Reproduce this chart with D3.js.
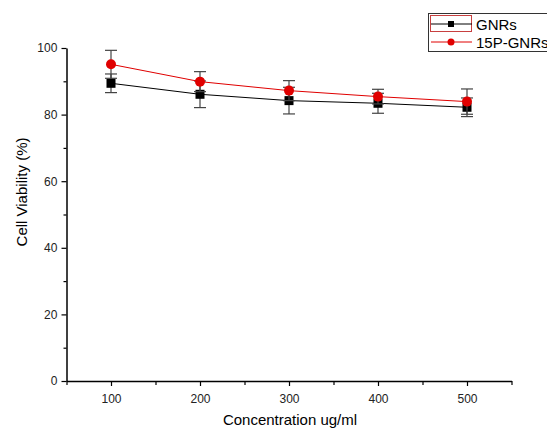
<!DOCTYPE html>
<html>
<head>
<meta charset="utf-8">
<script src="https://cdn.jsdelivr.net/npm/d3@7"></script>
<style>
body { margin: 0; background: #fff; overflow: hidden; }
text { font-family: "Liberation Sans", Arial, sans-serif; }
</style>
</head>
<body>
<div id="chart"></div>
<script>
var conc = [100, 200, 300, 400, 500];
var gnrs = [89.4, 86.1, 84.2, 83.4, 82.2];
var gnrsErr = [2.8, 4.0, 4.0, 3.0, 2.8];
var p15 = [95.1, 89.9, 87.2, 85.4, 83.9];
var p15Err = [4.2, 3.0, 3.0, 2.2, 3.8];
var xTicks = [100, 200, 300, 400, 500];
var yTicks = [0, 20, 40, 60, 80, 100];
var names = ["GNRs", "15P-GNRs"];

var w = 547, h = 435;
var svg = d3.select("#chart").append("svg")
    .attr("width", w)
    .attr("height", h);

var x = d3.scaleLinear().domain([50, 550]).range([66.5, 511.5]);
var y = d3.scaleLinear().domain([0, 100]).range([381, 48]);

// x axis
var xAxis = svg.append("g")
    .attr("transform", "translate(0,381)")
    .call(d3.axisBottom(x).tickValues(xTicks).tickSize(5).tickSizeOuter(0));
svg.append("g")
    .attr("transform", "translate(0,381)")
    .call(d3.axisBottom(x).tickValues(d3.range(50, 551, 100)).tickSize(4).tickFormat("").tickSizeOuter(0))
    .select(".domain").remove();

// y axis
var yAxis = svg.append("g")
    .attr("transform", "translate(66.5,0)")
    .call(d3.axisLeft(y).tickValues(yTicks).tickSize(5).tickSizeOuter(0));
svg.append("g")
    .attr("transform", "translate(66.5,0)")
    .call(d3.axisLeft(y).tickValues(d3.range(10, 100, 20)).tickSize(3).tickFormat(""))
    .select(".domain").remove();

svg.selectAll(".domain").attr("stroke", "#000").attr("stroke-width", 1.5);
svg.selectAll(".tick line").attr("stroke", "#000").attr("stroke-width", 1.2);
xAxis.selectAll(".tick text").attr("font-size", 12).attr("fill", "#222").attr("dy", "1.15em");
yAxis.selectAll(".tick text").attr("font-size", 12).attr("fill", "#222").attr("dx", "-0.1em");

svg.append("text")
    .attr("x", 290)
    .attr("y", 425)
    .attr("text-anchor", "middle")
    .attr("font-size", 15)
    .text("Concentration ug/ml");

svg.append("text")
    .attr("transform", "translate(27,192) rotate(-90)")
    .attr("text-anchor", "middle")
    .attr("font-size", 15)
    .text("Cell Viability (%)");

function series(vals, errs, color, marker) {
    var g = svg.append("g");
    var line = d3.line().x(function(d, i) { return x(conc[i]); }).y(function(d) { return y(d); });
    g.append("path")
        .datum(vals)
        .attr("d", line)
        .attr("fill", "none")
        .attr("stroke", color)
        .attr("stroke-width", 1);

    var eb = g.selectAll(".eb").data(vals).enter().append("g");
    eb.append("line")
        .attr("x1", function(d, i) { return x(conc[i]); })
        .attr("x2", function(d, i) { return x(conc[i]); })
        .attr("y1", function(d, i) { return y(d + errs[i]); })
        .attr("y2", function(d, i) { return y(d - errs[i]); })
        .attr("stroke", "#444").attr("stroke-width", 1.2);
    [1, -1].forEach(function(s) {
        eb.append("line")
            .attr("x1", function(d, i) { return x(conc[i]) - 6; })
            .attr("x2", function(d, i) { return x(conc[i]) + 6; })
            .attr("y1", function(d, i) { return y(d + s * errs[i]); })
            .attr("y2", function(d, i) { return y(d + s * errs[i]); })
            .attr("stroke", "#444").attr("stroke-width", 1.2);
    });

    if (marker == "square") {
        g.selectAll(".m").data(vals).enter().append("rect")
            .attr("x", function(d, i) { return x(conc[i]) - 4.5; })
            .attr("y", function(d) { return y(d) - 4.5; })
            .attr("width", 9).attr("height", 9)
            .attr("fill", color);
    } else {
        g.selectAll(".m").data(vals).enter().append("circle")
            .attr("cx", function(d, i) { return x(conc[i]); })
            .attr("cy", function(d) { return y(d); })
            .attr("r", 5)
            .attr("fill", color);
    }
}

series(gnrs, gnrsErr, "#000", "square");
series(p15, p15Err, "#e00000", "circle");

// legend
var lg = svg.append("g");
lg.append("rect")
    .attr("x", 428.5).attr("y", 13.5)
    .attr("width", 130).attr("height", 38)
    .attr("fill", "#fff").attr("stroke", "#333").attr("stroke-width", 1);
lg.append("rect")
    .attr("x", 430.5).attr("y", 15.5)
    .attr("width", 41).attr("height", 16)
    .attr("fill", "none").attr("stroke", "#c84040").attr("stroke-width", 1);
var leg = [
    {name: names[0], color: "#000", marker: "square", y: 24},
    {name: names[1], color: "#e00000", marker: "circle", y: 42}
];
leg.forEach(function(d) {
    lg.append("line")
        .attr("x1", 431).attr("x2", 472)
        .attr("y1", d.y).attr("y2", d.y)
        .attr("stroke", d.color).attr("stroke-width", 1);
    if (d.marker == "square") {
        lg.append("rect").attr("x", 448).attr("y", d.y - 3).attr("width", 6).attr("height", 6).attr("fill", d.color);
    } else {
        lg.append("circle").attr("cx", 451).attr("cy", d.y).attr("r", 3.5).attr("fill", d.color);
    }
    lg.append("text")
        .attr("x", 476).attr("y", d.y + 5.5)
        .attr("font-size", 15)
        .text(d.name);
});
</script>
</body>
</html>
